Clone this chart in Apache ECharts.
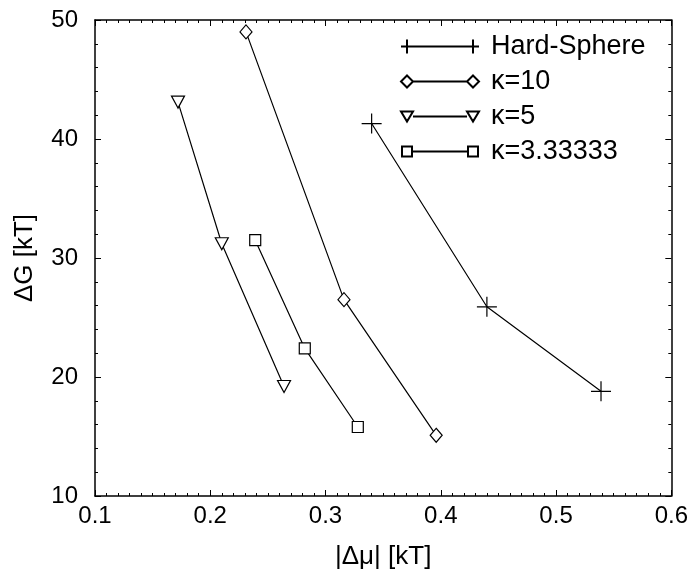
<!DOCTYPE html>
<html>
<head>
<meta charset="utf-8">
<script src="https://cdn.jsdelivr.net/npm/echarts@6/dist/echarts.min.js"></script>
<style>
  html, body { margin: 0; padding: 0; background: #fff; }
  #chart { width: 691px; height: 575px; }
</style>
</head>
<body>
<div id="chart"></div>
<script>
// values: |Δμ| [kT] vs ΔG [kT]
const seriesNames = ['Hard-Sphere', 'κ=10', 'κ=5', 'κ=3.33333'];
const hardSphereX = [0.340, 0.440, 0.539];
const hardSphereY = [41.3, 25.9, 18.8];
const kappa10X = [0.231, 0.316, 0.396];
const kappa10Y = [49.0, 26.5, 15.1];
const kappa5X = [0.172, 0.210, 0.264];
const kappa5Y = [43.1, 31.2, 19.2];
const kappa333X = [0.239, 0.282, 0.328];
const kappa333Y = [31.5, 22.4, 15.8];
const xTicks = [0.1, 0.2, 0.3, 0.4, 0.5, 0.6];
const yTicks = [10, 20, 30, 40, 50];

const FONT = '"Liberation Sans", Arial, sans-serif';
const pairs = (xs, ys) => xs.map((x, i) => [x, ys[i]]);

// markers
const crossSym = 'path://M0 10 L20 10 M10 0 L10 20';

// legend icons: line with a marker on both ends (box 78 x 14)
const box = 'path://M0 0 M78 14 ';
const legendIcons = [
    box + 'M6 7 L72 7 M0 7 L12 7 M6 0 L6 14 M66 7 L78 7 M72 0 L72 14',
    box + 'M12 7 L66 7 M6 1 L12 7 L6 13 L0 7 Z M72 1 L78 7 L72 13 L66 7 Z',
    box + 'M12 7 L66 7 M0 2 L12 2 L6 12 Z M66 2 L78 2 L72 12 Z',
    box + 'M11 7 L67 7 M1 2 L11 2 L11 12 L1 12 Z M67 2 L77 2 L77 12 L67 12 Z'
];

const lineSeries = (name, data, symbol, size, rotate) => ({
    name: name,
    type: 'line',
    data: data,
    symbol: symbol,
    symbolSize: size,
    symbolRotate: rotate || 0,
    showAllSymbol: true,
    lineStyle: { color: '#000', width: 1.2 },
    itemStyle: { color: '#fff', borderColor: '#000', borderWidth: 1.2 },
    emphasis: { disabled: true },
    z: 3
});

const axisText = { color: '#000', fontSize: 24, fontFamily: FONT };
const nameText = { color: '#000', fontSize: 26, fontFamily: FONT };

const chart = echarts.init(document.getElementById('chart'));

chart.setOption({
    animation: false,
    backgroundColor: '#fff',
    grid: { left: 95, right: 19, top: 20, bottom: 79, containLabel: false },
    legend: {
        left: 395,
        top: 28,
        orient: 'vertical',
        itemWidth: 78,
        itemHeight: 14,
        itemGap: 8,
        symbolKeepAspect: false,
        textStyle: { color: '#000', fontSize: 27, fontFamily: FONT, padding: [0, 0, 0, 7] },
        data: seriesNames.map((n, i) => ({ name: n, icon: legendIcons[i] }))
    },
    xAxis: [{
        type: 'value',
        min: 0.1, max: 0.6, interval: 0.1,
        name: '|Δμ| [kT]',
        nameLocation: 'middle',
        nameGap: 48,
        nameTextStyle: nameText,
        axisLine: { onZero: false, lineStyle: { color: '#000', width: 1.5 } },
        axisTick: { inside: true, length: 6, lineStyle: { color: '#000' } },
        minorTick: { show: true, splitNumber: 10, length: 3, lineStyle: { color: '#000' } },
        axisLabel: Object.assign({ margin: 8, formatter: v => xTicks.includes(+v.toFixed(1)) ? v.toFixed(1) : '' }, axisText),
        splitLine: { show: false }
    }, {
        type: 'value',
        position: 'top',
        min: 0.1, max: 0.6, interval: 0.1,
        axisLine: { onZero: false, lineStyle: { color: '#000', width: 1.5 } },
        axisTick: { inside: true, length: 6, lineStyle: { color: '#000' } },
        minorTick: { show: true, splitNumber: 10, length: 3, lineStyle: { color: '#000' } },
        axisLabel: { show: false },
        splitLine: { show: false }
    }],
    yAxis: [{
        type: 'value',
        min: 10, max: 50, interval: 10,
        name: 'ΔG [kT]',
        nameLocation: 'middle',
        nameGap: 57,
        nameTextStyle: nameText,
        axisLine: { onZero: false, lineStyle: { color: '#000', width: 1.5 } },
        axisTick: { inside: true, length: 6, lineStyle: { color: '#000' } },
        minorTick: { show: true, splitNumber: 5, length: 3, lineStyle: { color: '#000' } },
        axisLabel: Object.assign({ margin: 17, formatter: v => yTicks.includes(v) ? String(v) : '' }, axisText),
        splitLine: { show: false }
    }, {
        type: 'value',
        position: 'right',
        min: 10, max: 50, interval: 10,
        axisLine: { onZero: false, lineStyle: { color: '#000', width: 1.5 } },
        axisTick: { inside: true, length: 6, lineStyle: { color: '#000' } },
        minorTick: { show: true, splitNumber: 5, length: 3, lineStyle: { color: '#000' } },
        axisLabel: { show: false },
        splitLine: { show: false }
    }],
    series: [
        lineSeries(seriesNames[0], pairs(hardSphereX, hardSphereY), crossSym, 20),
        lineSeries(seriesNames[1], pairs(kappa10X, kappa10Y), 'diamond', [12, 14]),
        lineSeries(seriesNames[2], pairs(kappa5X, kappa5Y), 'triangle', [13, 12], 180),
        lineSeries(seriesNames[3], pairs(kappa333X, kappa333Y), 'rect', 11)
    ]
});

window.addEventListener('resize', () => chart.resize());
</script>
</body>
</html>
